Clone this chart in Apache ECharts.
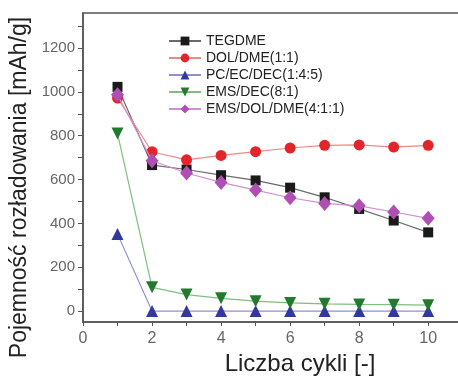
<!DOCTYPE html>
<html><head><meta charset="utf-8">
<script src="https://cdn.jsdelivr.net/npm/echarts@6/dist/echarts.min.js"></script>
<style>html,body{margin:0;padding:0;background:#fff}#c{width:458px;height:378px}</style>
</head><body><div id="c"></div>
<script>
const cycles = [1,2,3,4,5,6,7,8,9,10];
const seriesNames = ['TEGDME','DOL/DME(1:1)','PC/EC/DEC(1:4:5)','EMS/DEC(8:1)','EMS/DOL/DME(4:1:1)'];
const tegdme = [1023,666,646,620,596,563,519,466,413,359];
const dolDme = [972,727,690,710,727,744,756,758,748,756];
const pcEcDec = [351,0,0,0,0,0,0,0,0,0];
const emsDec = [810,108,75,58,45,37,33,30,29,27];
const emsDolDme = [987,686,630,587,552,517,491,480,452,423];
const xTicks = [0,2,4,6,8,10];
const yTicks = [0,200,400,600,800,1000,1200];

const markerColors = ['#1a1a1a','#e3242b','#33389e','#237a2e','#b04fb3'];
const lineColors = ['#6a6a6a','#ee8a84','#8f90d0','#7cbf80','#d38fd3'];
const symbols = ['rect','circle','triangle','path://M0,0 L10,0 L5,9 Z','diamond'];
const sizes = [10,11,12,12,[13,15]];
const dataSets = [tegdme,dolDme,pcEcDec,emsDec,emsDolDme];

const series = dataSets.map((d,i)=>({
  name: seriesNames[i], type:'line',
  data: d.map((v,j)=>[cycles[j],v]),
  symbol: symbols[i], symbolSize: sizes[i],
  itemStyle:{color:markerColors[i]},
  lineStyle:{color:lineColors[i], width:1.2},
  z: 2+i
}));

const chart = echarts.init(document.getElementById('c'));
chart.setOption({
  animation:false,
  textStyle:{fontFamily:'Liberation Sans, Arial, sans-serif'},
  grid:{left:83, right:-3, top:13, bottom:56, show:true, borderColor:'#555', borderWidth:1.5, outerBoundsMode:'none', containLabel:false},
  legend:{
    orient:'vertical', left:163, top:29, itemGap:3, itemWidth:32, itemHeight:11,
    textStyle:{fontSize:14, color:'#222', fontFamily:'Liberation Sans, Arial, sans-serif'},
    data: seriesNames
  },
  xAxis:{
    type:'value', min:0, max:10.95, interval:1,
    name:'Liczba cykli [-]', nameLocation:'middle', nameGap:27,
    nameTextStyle:{fontSize:24, color:'#222', padding:[0,0,0,56]},
    axisLine:{show:true, onZero:false, lineStyle:{color:'#555', width:1.5}},
    axisTick:{show:true, inside:false, length:4, lineStyle:{color:'#555'}, customValues:[0,1,2,3,4,5,6,7,8,9,10]},
    axisLabel:{fontSize:16, color:'#666', margin:9, customValues:xTicks},
    splitLine:{show:false}
  },
  yAxis:{
    type:'value', min:-50, max:1360,
    name:'Pojemność rozładowania [mAh/g]', nameLocation:'middle', nameGap:49,
    nameTextStyle:{fontSize:23, color:'#222', padding:[0,40,0,0]},
    axisLine:{show:true, onZero:false, lineStyle:{color:'#555', width:1.5}},
    axisTick:{show:true, length:5, lineStyle:{color:'#555'}, customValues:[0,100,200,300,400,500,600,700,800,900,1000,1100,1200,1300]},
    axisLabel:{fontSize:15, color:'#666', margin:8, customValues:yTicks, formatter:(v)=>String(v)},
    splitLine:{show:false}
  },
  series: series
});
</script></body></html>
